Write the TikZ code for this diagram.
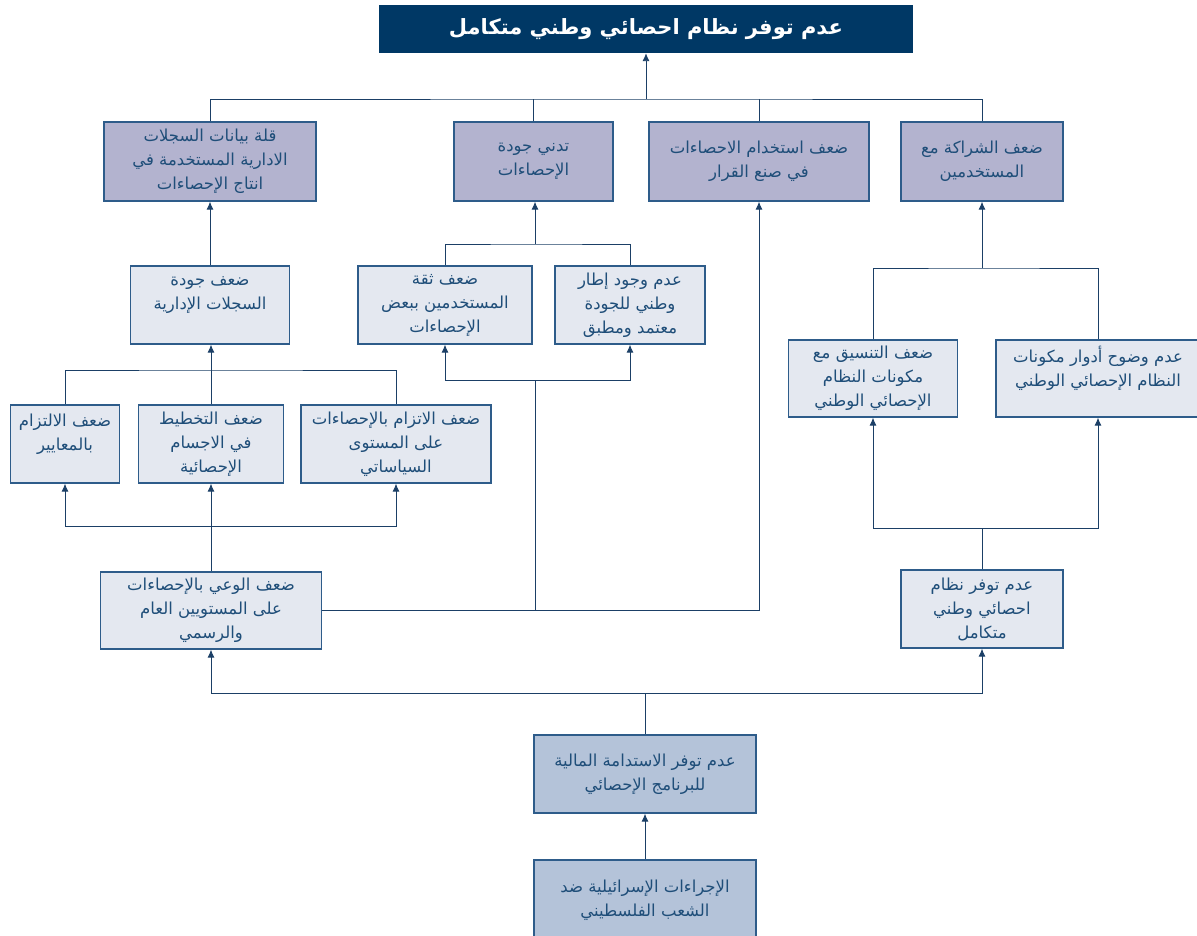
\documentclass[tikz,border=0pt]{standalone}
\usepackage{fontspec}
\newfontfamily\arabicfont[Script=Arabic]{DejaVu Sans}
\TeXXeTstate=1
\usetikzlibrary{arrows.meta}
\definecolor{navy}{HTML}{003865}
\definecolor{purp}{HTML}{B3B3CF}
\definecolor{lite}{HTML}{E4E8F0}
\definecolor{steel}{HTML}{B4C3D9}
\definecolor{bord}{HTML}{2E5C8A}
\definecolor{lnc}{HTML}{1B3F66}
\definecolor{txc}{HTML}{1F4E79}
\newcommand\artext[1]{\beginR #1\endR}
\tikzset{
  basebox/.style={draw=bord, line width=1.3pt, align=center, text=txc,
    font=\arabicfont\fontsize{16.5}{24}\selectfont, inner sep=2pt},
  pbox/.style={basebox, fill=purp},
  lbox/.style={basebox, fill=lite},
  sbox/.style={basebox, fill=steel},
  conn/.style={draw=lnc, line width=0.9pt},
  arr/.style={conn, -{Latex[length=8pt,width=7pt]}}
}
\begin{document}
\begin{tikzpicture}[x=1pt,y=-1pt]
\useasboundingbox (0,0) rectangle (1197,936);
% title
\node[fill=navy, text=white, minimum width=534, minimum height=48, inner sep=0pt,
  font=\arabicfont\bfseries\fontsize{21}{25}\selectfont] (T) at (646,29)
  {\artext{عدم توفر نظام احصائي وطني متكامل}};
% top row
\node[pbox, minimum width=212, minimum height=79] (A1) at (210,161.5)
  {\artext{قلة بيانات السجلات}\\\artext{الادارية المستخدمة في}\\\artext{انتاج الإحصاءات}};
\node[pbox, minimum width=159, minimum height=79] (A2) at (533.5,161.5)
  {\artext{تدني جودة}\\\artext{الإحصاءات}};
\node[pbox, minimum width=220, minimum height=79] (A3) at (759,161.5)
  {\artext{ضعف استخدام الاحصاءات}\\\artext{في صنع القرار}};
\node[pbox, minimum width=162, minimum height=79] (A4) at (982,161.5)
  {\artext{ضعف الشراكة مع}\\\artext{المستخدمين}};
% second row
\node[lbox, minimum width=159, minimum height=78] (B1) at (210,305)
  {\artext{ضعف جودة}\\\artext{السجلات الإدارية}\\\mbox{}};
\node[lbox, minimum width=174, minimum height=78] (B2) at (445,305)
  {\artext{ضعف ثقة}\\\artext{المستخدمين ببعض}\\\artext{الإحصاءات}};
\node[lbox, minimum width=150, minimum height=78] (B3) at (630,305)
  {\artext{عدم وجود إطار}\\\artext{وطني للجودة}\\\artext{معتمد ومطبق}};
% right side
\node[lbox, minimum width=169, minimum height=77] (C1) at (873,378.5)
  {\artext{ضعف التنسيق مع}\\\artext{مكونات النظام}\\\artext{الإحصائي الوطني}};
\node[lbox, minimum width=204, minimum height=77] (C2) at (1098,378.5)
  {\artext{عدم وضوح أدوار مكونات}\\\artext{النظام الإحصائي الوطني}\\\mbox{}};
% third row left
\node[lbox, minimum width=109, minimum height=78] (D1) at (65,444)
  {\artext{ضعف الالتزام}\\\artext{بالمعايير}\\\mbox{}};
\node[lbox, minimum width=145, minimum height=78] (D2) at (211,444)
  {\artext{ضعف التخطيط}\\\artext{في الاجسام}\\\artext{الإحصائية}};
\node[lbox, minimum width=190, minimum height=78] (D3) at (396,444)
  {\artext{ضعف الاتزام بالإحصاءات}\\\artext{على المستوى}\\\artext{السياساتي}};
% fourth row
\node[lbox, minimum width=221, minimum height=77] (E1) at (211,610.5)
  {\artext{ضعف الوعي بالإحصاءات}\\\artext{على المستويين العام}\\\artext{والرسمي}};
\node[lbox, minimum width=162, minimum height=78] (E2) at (982,609)
  {\artext{عدم توفر نظام}\\\artext{احصائي وطني}\\\artext{متكامل}};
% bottom
\node[sbox, minimum width=222, minimum height=78] (F) at (645,774)
  {\artext{عدم توفر الاستدامة المالية}\\\artext{للبرنامج الإحصائي}};
\node[sbox, minimum width=222, minimum height=80] (G) at (645,900)
  {\artext{الإجراءات الإسرائيلية ضد}\\\artext{الشعب الفلسطيني}};
% junctions
\coordinate (j0) at (646,99);
\coordinate (j1) at (535,244);
\coordinate (j2) at (535,380);
\coordinate (j4) at (982,268);
\coordinate (j5) at (982,528);
\coordinate (j6) at (211,370);
\coordinate (j7) at (211,526);
\coordinate (j8) at (645,693);
% top connectors
\draw[conn] (A1.north) |- (j0) -| (A4.north);
\draw[conn] (A2.north) -- (A2.north |- j0);
\draw[conn] (A3.north) -- (A3.north |- j0);
\draw[arr] (j0) -- (j0 |- T.south);
% B1 -> A1
\draw[arr] (B1.north) -- (B1.north |- A1.south);
% B2,B3 -> A2
\draw[conn] (B2.north) |- (j1) -| (B3.north);
\draw[arr] (j1) -- (j1 |- A2.south);
\draw[arr] (j2) -| (B2.south);
\draw[arr] (j2) -| (B3.south);
% E1 -> A3 and -> j2
\draw[arr] (E1.east) -| (A3.south);
\draw[conn] (j2 |- E1.east) -- (j2);
% C1,C2 -> A4
\draw[conn] (C1.north) |- (j4) -| (C2.north);
\draw[arr] (j4) -- (j4 |- A4.south);
\draw[conn] (E2.north) -- (j5);
\draw[arr] (j5) -| (C1.south);
\draw[arr] (j5) -| (C2.south);
% D row
\draw[conn] (D1.north) |- (j6) -| (D3.north);
\draw[arr] (D2.north) -- (D2.north |- B1.south);
\draw[conn] (E1.north) -- (j7);
\draw[arr] (j7) -| (D1.south);
\draw[arr] (j7) -| (D3.south);
\draw[arr] (j7) -- (j7 |- D2.south);
% bottom
\draw[conn] (F.north) -- (j8);
\draw[arr] (j8) -| (E1.south);
\draw[arr] (j8) -| (E2.south);
\draw[arr] (G.north) -- (F.south);
\end{tikzpicture}
\end{document}
